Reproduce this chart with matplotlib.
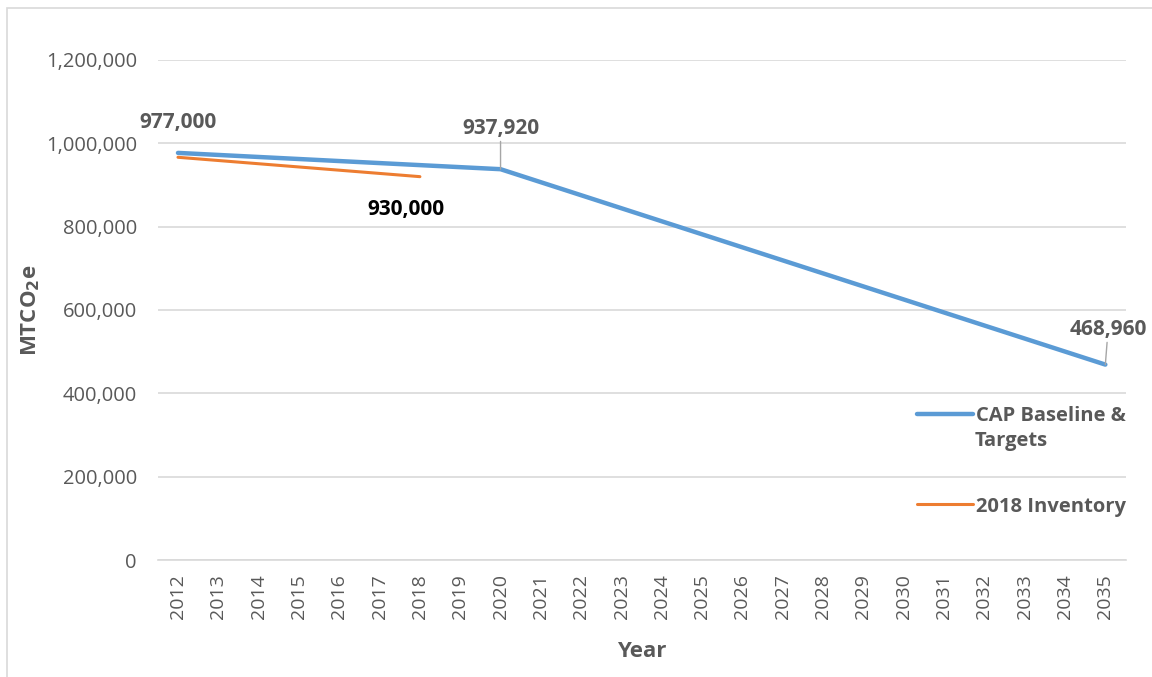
import numpy as np
import matplotlib.pyplot as plt
from matplotlib.patches import Rectangle

plt.rcParams['font.family'] = ['Open Sans', 'DejaVu Sans']

years = list(range(2012, 2036))

# CAP baseline and targets (known points)
cap_years = [2012, 2020, 2035]
cap_values = [977000, 937920, 468960]

# 2018 inventory
inv_years = [2012, 2018]
inv_values = [966500, 920000]

grey = '#595959'

fig = plt.figure(figsize=(11.52, 6.77), dpi=100)
ax = fig.add_axes([0.137, 0.1728, 0.84, 0.7386])

ax.plot(cap_years, cap_values, color='#5B9BD5', linewidth=3.2,
        label='CAP Baseline &', solid_capstyle='round', zorder=3)
ax.plot(inv_years, inv_values, color='#ED7D31', linewidth=2.2,
        label='2018 Inventory', solid_capstyle='round', zorder=3)

ax.set_xlim(2011.5, 2035.5)
ax.set_ylim(0, 1200000)
ax.set_yticks(np.arange(0, 1200001, 200000))
ax.yaxis.set_major_formatter(plt.FuncFormatter(lambda v, p: f'{int(v):,}'))
ax.set_xticks(years)
ax.set_xticklabels([str(y) for y in years], rotation=90)
ax.tick_params(axis='both', length=0, colors=grey)
ax.tick_params(axis='y', pad=15, labelsize=14.5)
ax.tick_params(axis='x', pad=10, labelsize=14)
ax.grid(axis='y', color='#D9D9D9', linewidth=1.2)
ax.set_axisbelow(True)
for s in ['top', 'right', 'left']:
    ax.spines[s].set_visible(False)
ax.spines['bottom'].set_color('#D9D9D9')
ax.spines['bottom'].set_linewidth(1.2)

ax.set_xlabel('Year', color=grey, fontsize=16, fontweight='bold', labelpad=16)
ax.set_ylabel('MTCO$_\\mathbf{2}$e', color=grey, fontsize=16, fontweight='bold')
ax.yaxis.set_label_coords(-0.12, 0.5)

# data labels
lab = dict(textcoords='offset points', ha='center', fontsize=15, fontweight='bold')
ax.annotate(f'{cap_values[0]:,}', xy=(cap_years[0], cap_values[0]), xytext=(0, 14),
            va='bottom', color=grey, **lab)
ax.annotate(f'{cap_values[1]:,}', xy=(cap_years[1], cap_values[1]), xytext=(0, 22),
            va='bottom', color=grey,
            arrowprops=dict(arrowstyle='-', color='#A6A6A6', lw=1, shrinkA=0, shrinkB=0), **lab)
ax.annotate(f'{cap_values[2]:,}', xy=(cap_years[2], cap_values[2]), xytext=(2, 18),
            va='bottom', color=grey,
            arrowprops=dict(arrowstyle='-', color='#A6A6A6', lw=1, shrinkA=0, shrinkB=0), **lab)
ax.annotate('930,000', xy=(inv_years[1], inv_values[1]), xytext=(-10, -16),
            va='top', color='black', **lab)

leg = ax.legend(loc='upper left', bbox_to_anchor=(0.78, 0.427), bbox_transform=fig.transFigure,
                frameon=False, fontsize=14.5, handlelength=2.8, handletextpad=0.15,
                labelspacing=3.5, labelcolor=grey)
for t in leg.get_texts():
    t.set_fontweight('bold')
# second line of the first legend entry sits under it, as Excel wraps it
fig.text(975 / 1152, 1 - 441 / 677, 'Targets', color=grey, fontsize=14.5,
         fontweight='bold', ha='left', va='center')

# outer chart border
fig.patches.append(Rectangle((7 / 1152, -0.01), 1.2, (677 - 8) / 677 + 0.01,
                             transform=fig.transFigure, fill=False,
                             edgecolor='#D9D9D9', linewidth=1.2))

fig.savefig('out.png', dpi=100)
